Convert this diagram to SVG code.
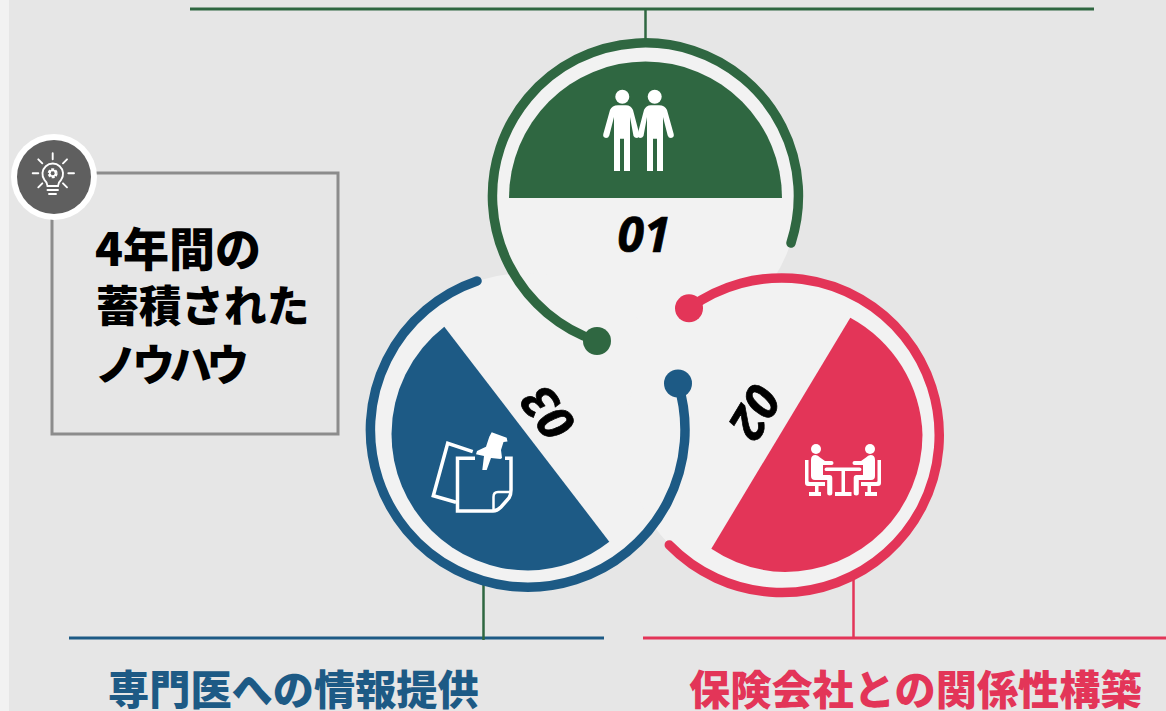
<svg xmlns="http://www.w3.org/2000/svg" width="1166" height="711" viewBox="0 0 1166 711">
<style>
.disc{fill:#f2f2f2}
.ring{fill:none;stroke-width:9.5;stroke-linecap:round}
.conn{fill:none}
.num{font-family:"Open Sans","Noto Sans",sans-serif;font-weight:700;font-style:italic;font-size:48px;fill:#000;stroke:#000;stroke-width:.7;text-anchor:middle}
.head{font-family:"Noto Sans CJK JP",sans-serif;font-weight:900;font-size:41.2px}
.body{font-family:"Noto Sans CJK JP",sans-serif;font-weight:900;font-size:42.7px;fill:#000}
.ico{fill:#fff}
.icol{fill:none;stroke:#fff;stroke-width:3.5}
.bulb{fill:none;stroke:#fff;stroke-width:1.9;stroke-linecap:round}
</style>
<rect width="1166" height="711" fill="#e6e6e6"/>
<rect width="9" height="711" fill="#f2f2f2"/>
<g id="connectors" class="conn">
<path d="M190 9H1094" stroke="#2f6741" stroke-width="3"/>
<path d="M645.5 9V40" stroke="#2f6741" stroke-width="2.5"/>
<path d="M69 638H604" stroke="#1d5a85" stroke-width="3"/>
<path d="M483.5 575V640" stroke="#2f6741" stroke-width="2.5"/>
<path d="M643 638H1166" stroke="#e33558" stroke-width="3"/>
<path d="M853.5 575V638" stroke="#e33558" stroke-width="2.5"/>
</g>
<g id="discs">
<circle class="disc" cx="645.5" cy="195" r="153"/>
<circle class="disc" cx="527.5" cy="430" r="157"/>
<circle class="disc" cx="782" cy="435.3" r="157"/>
</g>
<g id="node-01">
<path d="M509 198A136.5 136.5 0 0 1 782 198Z" fill="#2f6741"/>
<path class="ring" stroke="#2f6741" d="M597 341A153 153 0 1 1 791 243"/>
<circle cx="597" cy="341" r="14" fill="#2f6741"/>
<g id="person"><circle class="ico" cx="622.3" cy="96.7" r="7"/>
<path class="ico" d="M618 105.3Q612 105.3 610 110L603.3 134Q602.5 137.5 606 138Q608.5 138 609.3 135.5L614 117V171H620V138.7H624V171H630V117L633.5 136Q634.5 138 637 138Q639.7 137.5 639.3 134L633 110Q631 105.3 626 105.3Z"/></g>
<use href="#person" transform="translate(1277 0) scale(-1 1)"/>
<text class="num" x="644" y="252">01</text>
</g>
<g id="node-02">
<path d="M850.3 317.7A137.5 137.5 0 0 1 922.5 434.5A137.5 137.5 0 0 1 785 572A137.5 137.5 0 0 1 711.3 548.7Z" fill="#e33558"/>
<path class="ring" stroke="#e33558" d="M689 308.3A157.3 157.3 0 1 1 669.3 545"/>
<circle cx="689" cy="308.3" r="14" fill="#e33558"/>
<g id="meeting-half"><circle class="ico" cx="816" cy="449" r="5"/>
<path class="ico" d="M805 460H808.5V481Q808.5 482 810 482H825V486H808Q805 486 805 483ZM815 486H818.5V492H821V496H809V492H815ZM811 460Q811 455 815.5 455Q818 455 820 457.5L825 461H831.5Q833.5 461 833.5 463Q833.5 465 831.5 465H823V475H829.5Q832.3 475 832.3 478V493Q832.3 495.5 829.7 495.5Q827.2 495.5 827.2 493V480H815Q811 480 811 476Z"/></g>
<use href="#meeting-half" transform="translate(1686 0) scale(-1 1)"/>
<path class="ico" d="M826.5 467.5H859.5Q861.5 467.5 861.5 469.5Q861.5 471 859.5 471H845V492H851.5V496H835V492H841.5V471H826.5Q824.5 471 824.5 469.5Q824.5 467.5 826.5 467.5Z"/>
<text class="num" transform="translate(755 412) rotate(121)" x="0" y="17">02</text>
</g>
<g id="node-03">
<path d="M444.3 326.7A136.5 136.5 0 0 0 391.5 434A136.5 136.5 0 0 0 528 570.5A136.5 136.5 0 0 0 609.3 541.7Z" fill="#1d5a85"/>
<path class="ring" stroke="#1d5a85" d="M477 281A157.3 157.3 0 1 0 678 383.5"/>
<circle cx="678" cy="383.5" r="14" fill="#1d5a85"/>
<path class="icol" d="M472.7 451.7L447.7 443.3L433.3 495.7L456 502.3"/>
<path class="icol" d="M475 458.3H457.5V511H493Q497 511 501 507L509 498Q511 495 511 490V458.3H505"/>
<path fill="none" stroke="#fff" stroke-width="2.5" d="M493.5 511V497Q493.5 492 498 492H510"/>
<path class="ico" d="M491.7 432.3L506.7 437.7L507.5 441.5L503.5 442L501 450L502 458L500.5 459L491 458L486.7 470L482.3 470L484 456L476 454.3L477 451L486 446.7L489.3 436.7Z"/>
<text class="num" transform="translate(548 413) rotate(233)" x="0" y="17">03</text>
</g>
<g id="note">
<rect x="52" y="173" width="286" height="261" fill="none" stroke="#8c8c8c" stroke-width="3"/>
<circle cx="54" cy="177" r="43" fill="#fff"/>
<circle cx="54" cy="177" r="37" fill="#5f5f5f"/>
<path class="bulb" d="M52.7 153.3V159.3M32.7 173.3H38.3M68.3 173.3H74M38.3 159.3L42.3 163.3M67 159.3L63 163.3M38.3 187.3L42.3 183.3M67 187.3L63 183.3"/>
<path class="bulb" d="M47.5 186Q47 182 44.5 180A10.3 10.3 0 1 1 61 180Q58.5 182 58 186ZM47.5 190H58M49 194H56"/>
<circle cx="52.7" cy="173.3" r="3.5" fill="none" stroke="#fff" stroke-width="3" stroke-dasharray="2.5 1.2"/>
<circle cx="52.7" cy="173.3" r="3" fill="none" stroke="#fff" stroke-width="1.5"/>
<text class="body" x="95" y="266" style="font-size:46px">4年間の</text>
<text class="body" x="96" y="322">蓄積された</text>
<text class="body" x="95" y="381" style="letter-spacing:-5.5px">ノウハウ</text>
</g>
<g id="labels">
<text class="head" x="108" y="705" fill="#1d5a85">専門医への情報提供</text>
<text class="head" x="689" y="705" fill="#e33558">保険会社との関係性構築</text>
</g>
</svg>
